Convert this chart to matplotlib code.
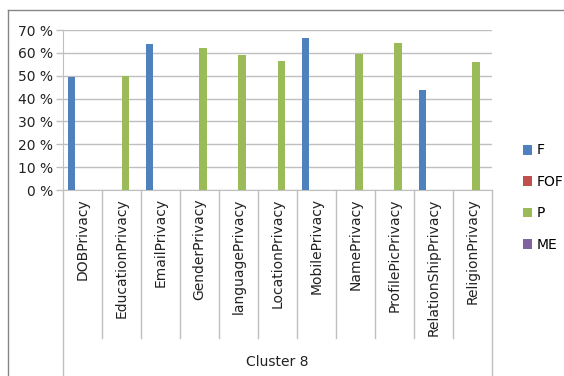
import numpy as np
import matplotlib
matplotlib.use("Agg")
from matplotlib import pyplot as plt
from matplotlib.patches import Patch
from matplotlib.lines import Line2D

#%% DATA
categories = ["DOBPrivacy", "EducationPrivacy", "EmailPrivacy", "GenderPrivacy",
              "languagePrivacy", "LocationPrivacy", "MobilePrivacy", "NamePrivacy",
              "ProfilePicPrivacy", "RelationShipPrivacy", "ReligionPrivacy"]
series_names = ["F", "FOF", "P", "ME"]
f_vals = [0.493, 0, 0.639, 0, 0, 0, 0.664, 0, 0, 0.437, 0]
fof_vals = [0, 0, 0, 0, 0, 0, 0, 0, 0, 0, 0]
p_vals = [0, 0.499, 0, 0.620, 0.590, 0.563, 0, 0.595, 0.642, 0, 0.558]
me_vals = [0, 0, 0, 0, 0, 0, 0, 0, 0, 0, 0]
yticks = [0, 0.1, 0.2, 0.3, 0.4, 0.5, 0.6, 0.7]
ytick_labels = ["0 %", "10 %", "20 %", "30 %", "40 %", "50 %", "60 %", "70 %"]
group_label = "Cluster 8"

colors = ["#4F81BD", "#C0504D", "#9BBB59", "#8064A2"]
grid_col = "#BFBFBF"
W, H = 564, 376

plt.rcParams['font.family'] = ['DejaVu Sans']

fig = plt.figure(figsize=(W / 100, H / 100), dpi=100)
ax = fig.add_axes([63 / W, 1 - 190 / H, (492 - 63) / W, 160 / H])

x = np.arange(len(categories))
bw = 0.19
for i, vals in enumerate([f_vals, fof_vals, p_vals, me_vals]):
    ax.bar(x + (i - 1.5) * bw, vals, width=bw, color=colors[i], zorder=3)

ax.set_xlim(-0.5, len(categories) - 0.5)
ax.set_ylim(0, 0.7)
ax.set_yticks(yticks)
ax.set_yticklabels(ytick_labels, fontsize=10, color="#222222")
ax.tick_params(axis='y', length=5, color=grid_col, width=1, pad=2)
ax.yaxis.grid(True, color=grid_col, linewidth=1, zorder=0)
for s in ["top", "right"]:
    ax.spines[s].set_visible(False)
ax.spines["left"].set_color(grid_col)
ax.spines["bottom"].set_color(grid_col)

ax.set_xticks(x)
ax.set_xticklabels(categories, rotation=90, fontsize=10, color="#222222")
ax.tick_params(axis='x', length=0, pad=6)

# category divider lines of the multi-level axis
trans = ax.get_xaxis_transform()
for b in np.arange(-0.5, len(categories)):
    yb = (190 - 376) / 160 if b in (-0.5, len(categories) - 0.5) else (190 - 338) / 160
    ax.add_line(Line2D([b, b], [0, yb], transform=trans, color=grid_col,
                       linewidth=1, clip_on=False))
ax.text(np.mean(x), (190 - 362) / 160, group_label, transform=trans,
        ha='center', va='center', fontsize=10, color="#222222")

# outer chart border
fig.add_artist(Line2D([8 / W, 1], [1 - 10 / H, 1 - 10 / H], transform=fig.transFigure,
                      color="#868686", linewidth=1))
fig.add_artist(Line2D([8 / W, 8 / W], [1 - 10 / H, 0], transform=fig.transFigure,
                      color="#868686", linewidth=1))

handles = [Patch(facecolor=c, edgecolor='none') for c in colors]
fig.legend(handles, series_names, loc='upper left', bbox_to_anchor=(510 / W, 1 - 131 / H),
           frameon=False, fontsize=10, handlelength=0.7, handleheight=0.7,
           handletextpad=0.3, labelspacing=1.25)

plt.savefig("out.png", dpi=100)
